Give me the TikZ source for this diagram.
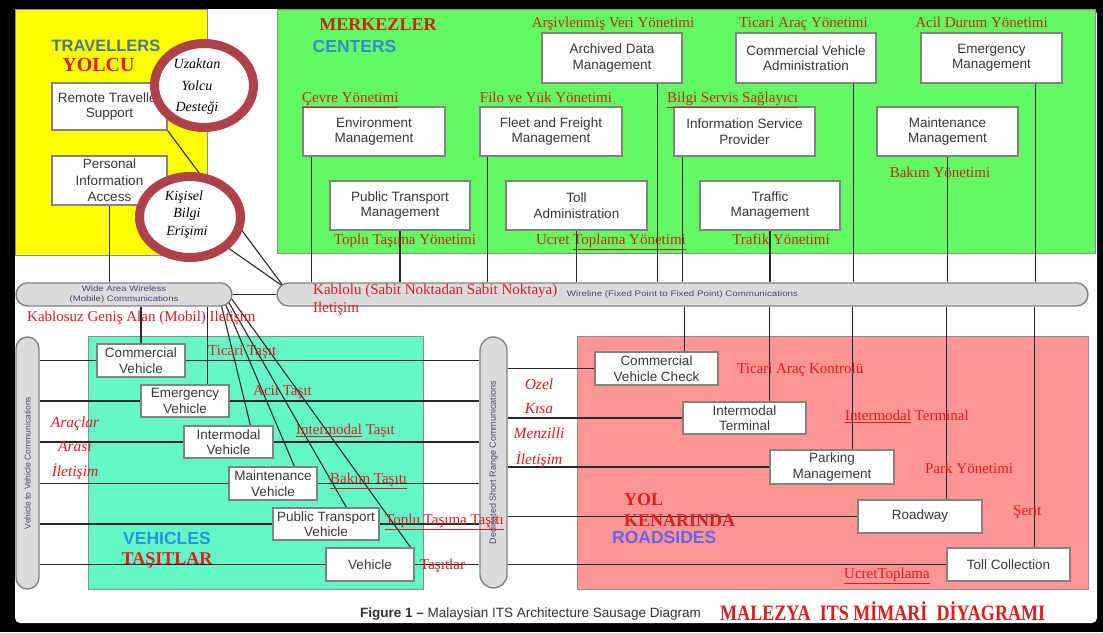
\documentclass[tikz,border=0pt]{standalone}
\usepackage{fontspec}
\setmainfont{Liberation Serif}
\setsansfont{Liberation Sans}
\usepackage{graphicx}
\usetikzlibrary{shapes.geometric,backgrounds}

% palette
\definecolor{travyellow}{RGB}{255,255,0}
\definecolor{centgreen}{RGB}{100,250,100}
\definecolor{vehaqua}{RGB}{100,248,200}
\definecolor{roadpink}{RGB}{255,150,150}
\definecolor{regionedge}{RGB}{140,140,140}
\definecolor{boxedge}{RGB}{130,130,130}
\definecolor{boxtext}{RGB}{55,55,55}
\definecolor{busfill}{RGB}{220,220,222}
\definecolor{busedge}{RGB}{130,130,130}
\definecolor{bustext}{RGB}{70,70,110}
\definecolor{wire}{RGB}{40,40,40}
\definecolor{trred}{RGB}{222,28,28}
\definecolor{cenred}{RGB}{192,42,16}
\definecolor{ringred}{RGB}{175,65,75}
\definecolor{travteal}{RGB}{75,120,135}
\definecolor{centblue}{RGB}{55,140,205}
\definecolor{vehblue}{RGB}{35,150,230}
\definecolor{roadblue}{RGB}{100,100,230}
\definecolor{captext}{RGB}{50,50,50}

\tikzset{
  area/.style={draw=regionedge, line width=0.8pt},
  unit/.style={draw=boxedge, line width=1.2pt, fill=white, text=boxtext, align=center,
    inner sep=0pt, font=\sffamily\fontsize{13.5}{15.5}\selectfont},
  bus/.style={draw=busedge, line width=1.4pt, fill=busfill, inner sep=0pt, text=bustext},
  link/.style={draw=wire, line width=1.1pt},
  ring/.style={ellipse, draw=ringred, line width=9pt, fill=white, inner sep=0pt},
  trk/.style={text=trred, inner sep=0pt, anchor=mid, font=\fontsize{15}{18}\selectfont},
  trkw/.style={trk, anchor=mid west},
  cen/.style={text=cenred, inner sep=0pt, anchor=mid, font=\fontsize{15}{18}\selectfont},
  cenw/.style={cen, anchor=mid west},
  ital/.style={text=trred, inner sep=0pt, anchor=mid, font=\itshape\fontsize{15.5}{18}\selectfont},
  circtext/.style={text=black, inner sep=0pt, anchor=mid, font=\itshape\fontsize{14}{17}\selectfont},
  heading/.style={inner sep=0pt, anchor=mid, font=\bfseries\sffamily\fontsize{17.5}{20}\selectfont},
  trhead/.style={inner sep=0pt, anchor=mid, text=trred, font=\bfseries\fontsize{18}{21}\selectfont},
}

\begin{document}
\begin{tikzpicture}[x=1pt, y=-1pt]
\useasboundingbox (0,0) rectangle (1103,632);

% frame and the four coloured regions
\begin{scope}[on background layer]
  \fill[black] (0,0) rectangle (1103,632);
  \fill[white, rounded corners=5pt] (15,9) rectangle (1097,623);
  \filldraw[area, fill=travyellow] (15,9) rectangle (207,255);
  \filldraw[area, fill=centgreen] (277,9) rectangle (1095,253);
  \filldraw[area, fill=vehaqua] (88,336) rectangle (423,589);
  \filldraw[area, fill=roadpink] (577,336) rectangle (1088,589);
\end{scope}

% communication buses
\node[bus, rounded corners=11.5pt, minimum width=811pt, minimum height=23pt] (wl) at (682.5,294.5)
  {\scalebox{1.22}[1]{\sffamily\fontsize{8}{9}\selectfont Wireline (Fixed Point to Fixed Point) Communications}};
\node[bus, rounded corners=11.5pt, minimum width=216pt, minimum height=23pt] (ww) at (124,294.5)
  {\scalebox{1.2}[1]{\sffamily\fontsize{8}{9.5}\selectfont\begin{tabular}{@{}c@{}}Wide Area Wireless\\(Mobile) Communications\end{tabular}}};
\node[bus, rounded corners=11.5pt, minimum width=23pt, minimum height=252pt] (v2v) at (27.5,463)
  {\rotatebox{90}{\sffamily\fontsize{8.5}{10}\selectfont Vehicle to Vehicle Communications}};
\node[bus, rounded corners=13.5pt, minimum width=27pt, minimum height=251pt] (dsrc) at (493.5,462.5)
  {\rotatebox{90}{\sffamily\fontsize{9}{10}\selectfont Dedicated Short Range Communications}};

% travellers
\node[unit, minimum width=115pt, minimum height=47pt] (rts) at (109.5,106.5) {Remote Traveller\\Support};
\node[unit, minimum width=115pt, minimum height=49pt, font=\sffamily\fontsize{13.5}{16.5}\selectfont] (pia) at (109.5,180.5) {Personal\\Information\\Access};

% centres
\node[unit, minimum width=140pt, minimum height=50pt] (adm) at (612,58) {Archived Data\\Management};
\node[unit, minimum width=140pt, minimum height=50pt] (cva) at (806,58) {Commercial Vehicle\\Administration};
\node[unit, minimum width=141pt, minimum height=50pt] (em) at (991.5,58) {Emergency\\Management};
\node[unit, minimum width=142pt, minimum height=49pt] (env) at (374,131.5) {Environment\\Management};
\node[unit, minimum width=142pt, minimum height=49pt] (ffm) at (551,131.5) {Fleet and Freight\\Management};
\node[unit, minimum width=141pt, minimum height=49pt] (isp) at (744.5,131.5) {Information Service\\Provider};
\node[unit, minimum width=141pt, minimum height=49pt] (mm) at (947.5,131.5) {Maintenance\\Management};
\node[unit, minimum width=140pt, minimum height=49pt] (ptm) at (400,205.5) {Public Transport\\Management};
\node[unit, minimum width=141pt, minimum height=49pt] (ta) at (576.5,205.5) {Toll\\Administration};
\node[unit, minimum width=140pt, minimum height=49pt] (tm) at (770,205.5) {Traffic\\Management};

% vehicles
\node[unit, minimum width=88pt, minimum height=33pt] (cv) at (141,360.5) {Commercial\\Vehicle};
\node[unit, minimum width=88pt, minimum height=32pt] (ev) at (185,401) {Emergency\\Vehicle};
\node[unit, minimum width=89pt, minimum height=32pt] (iv) at (228.5,442) {Intermodal\\Vehicle};
\node[unit, minimum width=88pt, minimum height=33pt] (mv) at (273,483.5) {Maintenance\\Vehicle};
\node[unit, minimum width=106pt, minimum height=32pt] (ptv) at (326,524) {Public Transport\\Vehicle};
\node[unit, minimum width=88pt, minimum height=33pt] (veh) at (370,564.5) {Vehicle};

% roadside units
\node[unit, minimum width=123pt, minimum height=33pt] (cvc) at (656.5,368.5) {Commercial\\Vehicle Check};
\node[unit, minimum width=123pt, minimum height=32pt] (it) at (744.5,418) {Intermodal\\Terminal};
\node[unit, minimum width=124pt, minimum height=34pt] (pm) at (832,467) {Parking\\Management};
\node[unit, minimum width=124pt, minimum height=33pt] (rw) at (920,516.5) {Roadway};
\node[unit, minimum width=123pt, minimum height=33pt] (tc) at (1008.5,564.5) {Toll Collection};

% connectors, kept under the units and buses
\begin{scope}[on background layer]
  % centres down to the wireline bus
  \coordinate (envx) at ([xshift=9pt]env.south west);
  \coordinate (ffmx) at ([xshift=8pt]ffm.south west);
  \coordinate (admx) at ([xshift=-25pt]adm.south east);
  \coordinate (ispx) at ([xshift=9.5pt]isp.south west);
  \coordinate (cvax) at ([xshift=-23pt]cva.south east);
  \coordinate (emx) at ([xshift=-27pt]em.south east);
  \foreach \c in {envx,ffmx,admx,ispx,cvax,emx,ptm.south,ta.south,tm.south,mm.south}
    \draw[link] (\c) -- (\c |- wl.north);
  % wireline bus down to the roadside units
  \coordinate (cvcx) at ([xshift=-34.5pt]cvc.north east);
  \coordinate (itx) at ([xshift=87pt]it.north west);
  \coordinate (pmx) at ([xshift=83pt]pm.north west);
  \coordinate (rwx) at ([xshift=89.5pt]rw.north west);
  \coordinate (tcx) at ([xshift=88pt]tc.north west);
  \foreach \c in {cvcx,itx,pmx,rwx,tcx}
    \draw[link] (\c |- wl.south) -- (\c);
  % travellers
  \coordinate (wltap) at (284,287);
  \draw[link] (rts.south east) -- (wltap);
  \draw[link] (pia.south east) -- (wltap);
  \draw[link] (pia.south) -- (pia.south |- ww.north);
  \draw[link] (ww.east) -- (wl.west);
  % wireless bus down to the vehicles
  \draw[link] (cv.north |- ww.south) -- (cv.north);
  \coordinate (evx) at ([xshift=-22pt]ev.north east);
  \draw[link] (evx |- ww.south) -- (evx);
  \coordinate (wwa) at (221,304);
  \coordinate (wwb) at (225,303);
  \coordinate (wwc) at (228,301);
  \coordinate (wwd) at (231,298);
  \draw[link] (wwa) -- ([xshift=67pt]iv.north west);
  \draw[link] (wwb) -- ([xshift=66pt]mv.north west);
  \draw[link] (wwc) -- ([xshift=74pt]ptv.north west);
  \draw[link] (wwd) -- ([xshift=-4pt]veh.north east);
  % vehicle-to-vehicle and short range links
  \foreach \v in {cv,ev,iv,mv,ptv,veh} {
    \draw[link] (v2v.east |- \v.west) -- (\v.west);
    \draw[link] (\v.east) -- (dsrc.west |- \v.east);
  }
  \foreach \r in {cvc,it,pm,rw,tc}
    \draw[link] (dsrc.east |- \r.west) -- (\r.west);
\end{scope}

% region headings
\node[heading, text=travteal, font=\bfseries\sffamily\fontsize{16.5}{19}\selectfont] (hTrav) at (106,49) {TRAVELLERS};
\node[trhead, font=\bfseries\fontsize{20}{22}\selectfont] (hYolcu) at (98.5,69) {YOLCU};
\node[trhead, text=cenred] (hMerk) at (378,28) {MERKEZLER};
\node[heading, text=centblue] (hCent) at (354.5,50) {CENTERS};
\node[heading, text=vehblue] (hVeh) at (167,542) {VEHICLES};
\node[trhead] (hTas) at (167,562) {TAŞITLAR};
\node[trhead, anchor=mid west] (hYol) at (624,503) {YOL};
\node[trhead, anchor=mid west] (hKen) at (624,524) {KENARINDA};
\node[heading, text=roadblue, anchor=mid west] (hRoad) at (612,541) {ROADSIDES};

% traveller callouts
\node[ring, minimum width=99pt, minimum height=84pt] (uzk) at (204,85.5) {};
\node[ring, minimum width=101pt, minimum height=81pt] (kis) at (190,217) {};
\node[circtext] (uzk1) at (197,66) {Uzaktan};
\node[circtext] (uzk2) at (197,88) {Yolcu};
\node[circtext] (uzk3) at (197,109) {Desteği};
\node[circtext] (kis1) at (184,198) {Kişisel};
\node[circtext] (kis2) at (187,215) {Bilgi};
\node[circtext] (kis3) at (187,233) {Erişimi};

% centre names
\node[cen] (lAdm) at (613,25) {Arşivlenmiş Veri Yönetimi};
\node[cen] (lCva) at (803.5,25) {Ticari Araç Yönetimi};
\node[cen] (lEm) at (981.5,25) {Acil Durum Yönetimi};
\node[cenw] (lEnv) at (302,100) {\underline{Çevre Yönetimi}};
\node[cen] (lFfm) at (546,100) {Filo ve Yük Yönetimi};
\node[cenw] (lIsp) at (667,100) {\underline{Bilgi Servis Sağlayıcı}};
\node[cen] (lMm) at (940,175) {Bakım Yönetimi};
\node[cen] (lPtm) at (405,242) {Toplu Taşıma Yönetimi};
\node[cen] (lTa) at (611,242) {Ucret \underline{Toplama Yönetimi}};
\node[cen] (lTm) at (781,242) {Trafik Yönetimi};

% bus names
\node[trkw] (lWl1) at (313,292) {Kablolu (Sabit Noktadan Sabit Noktaya)};
\node[trkw] (lWl2) at (313,310) {Iletişim};
\node[trkw] (lWw) at (27,319) {Kablosuz Geniş Alan (Mobil) Iletişim};
\node[ital] (lV1) at (75,425) {Araçlar};
\node[ital] (lV2) at (75,449) {Arası};
\node[ital] (lV3) at (75,474) {İletişim};
\node[ital] (lD1) at (539,387) {Ozel};
\node[ital] (lD2) at (539,411) {Kısa};
\node[ital] (lD3) at (539,436) {Menzilli};
\node[ital] (lD4) at (539,462) {İletişim};

% vehicle and roadside names
\node[trkw] (lCv) at (208,353) {Ticari Taşıt};
\node[trkw] (lEv) at (253,393) {Acil Taşıt};
\node[trkw] (lIv) at (296,432) {\underline{Intermodal} Taşıt};
\node[trkw] (lMv) at (330,481) {\underline{Bakım Taşıtı}};
\node[trkw] (lPtv) at (385,522) {\underline{Toplu Taşıma Taşıtı}};
\node[trkw] (lVeh) at (420,567) {Taşıtlar};
\node[trkw] (lCvc) at (737,371) {Ticari Araç Kontrolü};
\node[trkw] (lIt) at (845,418) {\underline{Intermodal} Terminal};
\node[trkw] (lPm) at (925,471) {Park Yönetimi};
\node[trkw] (lRw) at (1013,513) {Şerit};
\node[trkw] (lTc) at (844,576) {\underline{UcretToplama}};

% captions
\node[anchor=mid west, inner sep=0pt, text=captext, font=\sffamily\fontsize{13.5}{16}\selectfont] (cap) at (360,615)
  {\textbf{Figure 1 –} Malaysian ITS Architecture Sausage Diagram};
\node[anchor=mid west, inner sep=0pt, text=trred, font=\bfseries\fontsize{22}{24}\selectfont] (capTr) at (720,618)
  {\scalebox{0.82}[1]{MALEZYA\ \ ITS MİMARİ\ \ DİYAGRAMI}};
\end{tikzpicture}
\end{document}
